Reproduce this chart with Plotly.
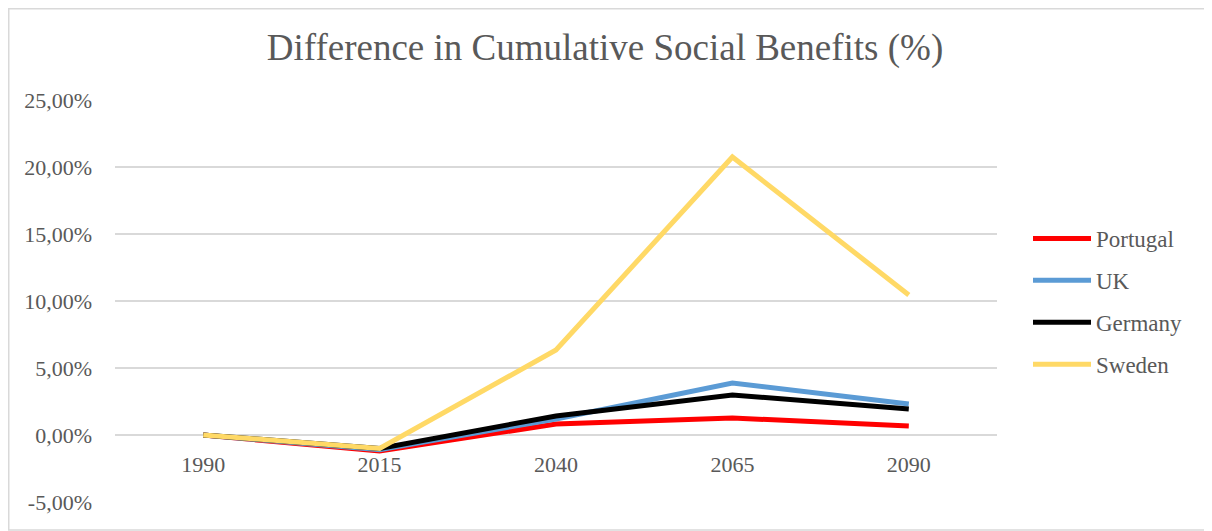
import plotly.graph_objects as go

years = ["1990", "2015", "2040", "2065", "2090"]
portugal = [0.0, -1.2, 0.82, 1.27, 0.67]
uk = [0.0, -1.1, 1.2, 3.88, 2.31]
germany = [0.0, -1.0, 1.42, 2.99, 1.94]
sweden = [0.0, -1.0, 6.34, 20.75, 10.45]

series = [
    ("Portugal", portugal, "#FF0000"),
    ("UK", uk, "#5B9BD5"),
    ("Germany", germany, "#000000"),
    ("Sweden", sweden, "#FFD966"),
]

tick_vals = [-5, 0, 5, 10, 15, 20, 25]
tick_text = ["-5,00%", "0,00%", "5,00%", "10,00%", "15,00%", "20,00%", "25,00%"]

# page body has an 8px offset; figure is sized to fill the rest of the window
OFF = 8
W, H = 1212 - OFF, 531 - OFF
L, R, T, B = 115 - OFF, 215, 100 - OFF, 29
pw, ph = W - L - R, H - T - B

fig = go.Figure()
for name, vals, color in series:
    fig.add_trace(go.Scatter(
        x=years, y=vals, name=name, mode="lines", legendgroup=name,
        line=dict(color=color, width=5, shape="linear"),
    ))

font_family = "Liberation Serif, Times New Roman, serif"
fig.update_layout(
    width=W, height=H,
    margin=dict(l=L, r=R, t=T, b=B, autoexpand=False),
    paper_bgcolor="white", plot_bgcolor="white",
    title=dict(text="Difference in Cumulative Social Benefits (%)",
               x=(605 - OFF) / W, xanchor="center", xref="container",
               y=1 - (47 - OFF) / H, yanchor="middle",
               font=dict(family=font_family, size=37, color="#595959")),
    font=dict(family=font_family, size=22, color="#595959"),
    xaxis=dict(type="category", range=[-0.5, 4.5], showgrid=False, zeroline=False,
               showline=False, ticks="", anchor="free", position=5 / 30,
               automargin=False, ticklabelstandoff=14,
               tickfont=dict(size=22, color="#595959")),
    yaxis=dict(range=[-5, 25], tickvals=tick_vals, ticktext=tick_text,
               showgrid=True, gridcolor="#D9D9D9", gridwidth=1.5,
               zeroline=False, showline=False, ticks="", automargin=False,
               ticklabelstandoff=22,
               tickfont=dict(size=22, color="#595959")),
    legend=dict(x=(1028 - 115) / pw, y=(H - B - (217 - OFF)) / ph, xanchor="left", yanchor="top",
                font=dict(size=23, color="#595959"), bgcolor="rgba(0,0,0,0)",
                tracegroupgap=9, itemwidth=58),
    showlegend=True,
    shapes=[dict(type="rect", xref="paper", yref="paper",
                 x0=(0.75 - L) / pw, x1=(W - 0.75 - L) / pw,
                 y0=(1 - B) / ph, y1=(ph + T - 0.75) / ph,
                 line=dict(color="#D9D9D9", width=1.5), fillcolor="rgba(0,0,0,0)",
                 layer="below")],
)

fig.write_html("out.html")
